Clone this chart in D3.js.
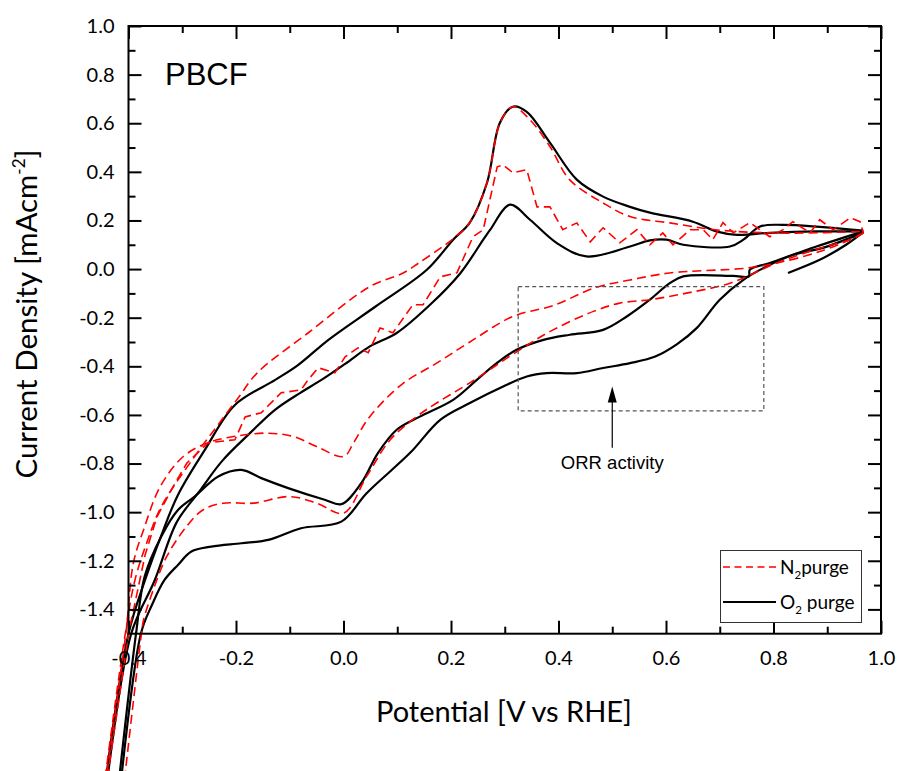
<!DOCTYPE html>
<html><head><meta charset="utf-8">
<script src="https://cdn.jsdelivr.net/npm/d3@7"></script>
<style>body{margin:0;background:#fff} svg{display:block}</style>
</head><body><svg id="chart" width="899" height="771"></svg>
<script>
// ---- tick values ----
const xMajorTicks = [-0.4, -0.2, 0.0, 0.2, 0.4, 0.6, 0.8, 1.0];
const xMinorTicks = [-0.3, -0.1, 0.1, 0.3, 0.5, 0.7, 0.9];
const yMajorTicks = [1.0, 0.8, 0.6, 0.4, 0.2, 0.0, -0.2, -0.4, -0.6, -0.8, -1.0, -1.2, -1.4];
const yMinorTicks = [0.9, 0.7, 0.5, 0.3, 0.1, -0.1, -0.3, -0.5, -0.7, -0.9, -1.1, -1.3];

// ---- O2 purge (black) branches: [potential V, current mA/cm2] ----
const o2Start = [[0.827,-0.016],[0.886,0.038],[0.935,0.100],[0.967,0.152]];
const o2Anodic1 = [[-0.445,-2.15],[-0.400,-1.50],[-0.369,-1.278],[-0.338,-1.09],[-0.308,-0.929],[-0.258,-0.744],
  [-0.202,-0.559],[-0.127,-0.456],[-0.084,-0.394],[-0.028,-0.291],[0.059,-0.155],[0.155,-0.003],[0.204,0.121],
  [0.235,0.191],[0.267,0.355],[0.291,0.602],[0.315,0.668],[0.341,0.647],[0.384,0.520],[0.434,0.368],[0.483,0.298],
  [0.533,0.256],[0.570,0.232],[0.650,0.195],[0.695,0.154],[0.732,0.141],[0.793,0.149],[0.880,0.155],[0.967,0.155]];
const o2Anodic2 = [[-0.442,-2.15],[-0.395,-1.50],[-0.351,-1.279],[-0.310,-1.040],[-0.270,-0.920],[-0.226,-0.790],
  [-0.174,-0.675],[-0.128,-0.580],[-0.081,-0.510],[-0.041,-0.456],[0.003,-0.390],[0.049,-0.318],[0.099,-0.263],
  [0.161,-0.147],[0.217,-0.018],[0.260,0.121],[0.273,0.162],[0.310,0.265],[0.347,0.203],[0.397,0.107],[0.452,0.052],
  [0.533,0.093],[0.570,0.118],[0.601,0.121],[0.632,0.100],[0.719,0.093],[0.744,0.121],[0.775,0.175],[0.818,0.182],[0.967,0.158]];
const o2Cathodic1 = [[0.967,0.155],[0.880,0.093],[0.793,0.025],[0.756,-0.003],[0.754,-0.030],[0.725,-0.028],
  [0.632,-0.030],[0.607,-0.058],[0.570,-0.126],[0.527,-0.195],[0.483,-0.250],[0.421,-0.270],[0.372,-0.291],
  [0.322,-0.332],[0.285,-0.387],[0.248,-0.456],[0.204,-0.538],[0.142,-0.607],[0.099,-0.661],[0.064,-0.757],
  [0.033,-0.881],[-0.004,-0.967],[-0.035,-0.949],[-0.103,-0.901],[-0.153,-0.860],[-0.190,-0.826],[-0.233,-0.853],
  [-0.277,-0.936],[-0.308,-0.991],[-0.339,-1.100],[-0.370,-1.265],[-0.386,-1.50],[-0.420,-2.15]];
const o2Cathodic2 = [[0.967,0.150],[0.890,0.086],[0.837,0.059],[0.781,0.004],[0.744,-0.044],[0.700,-0.126],
  [0.657,-0.243],[0.620,-0.310],[0.580,-0.360],[0.533,-0.387],[0.483,-0.407],[0.434,-0.428],[0.378,-0.428],
  [0.341,-0.442],[0.297,-0.483],[0.235,-0.551],[0.180,-0.620],[0.124,-0.756],[0.043,-0.922],[-0.004,-1.039],
  [-0.079,-1.066],[-0.140,-1.114],[-0.190,-1.128],[-0.246,-1.142],[-0.283,-1.162],[-0.308,-1.217],[-0.333,-1.279],
  [-0.356,-1.380],[-0.377,-1.50],[-0.416,-2.15]];

// ---- N2 purge (red dashed) branches ----
const n2Anodic1 = [[-0.447,-2.15],[-0.406,-1.50],[-0.388,-1.279],[-0.365,-1.120],[-0.339,-0.977],[-0.277,-0.771],
  [-0.235,-0.645],[-0.196,-0.530],[-0.160,-0.426],[-0.066,-0.263],[0.049,-0.072],[0.111,-0.016],[0.140,0.025],
  [0.204,0.125],[0.235,0.191],[0.267,0.355],[0.291,0.600],[0.315,0.668],[0.347,0.614],[0.384,0.504],[0.421,0.367],
  [0.483,0.272],[0.533,0.216],[0.607,0.190],[0.700,0.160],[0.825,0.148],[0.967,0.155]];
const n2Anodic2 = [[-0.443,-2.15],[-0.400,-1.50],[-0.369,-1.175],[-0.347,-1.019],[-0.317,-0.895],[-0.291,-0.797],
  [-0.252,-0.715],[-0.202,-0.702],[-0.183,-0.608],[-0.153,-0.591],[-0.116,-0.509],[-0.079,-0.497],[-0.066,-0.456],
  [-0.047,-0.406],[-0.016,-0.427],[0.003,-0.361],[0.027,-0.324],[0.046,-0.344],[0.068,-0.242],[0.092,-0.262],
  [0.129,-0.147],[0.148,-0.147],[0.180,-0.032],[0.211,-0.015],[0.241,0.133],[0.260,0.162],[0.286,0.421],[0.297,0.429],
  [0.315,0.396],[0.341,0.409],[0.360,0.256],[0.384,0.256],[0.408,0.162],[0.434,0.190],[0.459,0.112],[0.483,0.170],
  [0.514,0.108],[0.546,0.162],[0.570,0.100],[0.594,0.149],[0.613,0.100],[0.645,0.162],[0.669,0.162],[0.687,0.121],
  [0.706,0.191],[0.725,0.149],[0.756,0.191],[0.793,0.133],[0.818,0.162],[0.836,0.195],[0.868,0.149],[0.886,0.203],
  [0.911,0.162],[0.943,0.211],[0.961,0.195],[0.967,0.149]];
const n2Cathodic1 = [[0.967,0.150],[0.962,0.141],[0.886,0.072],[0.806,0.025],[0.750,0.004],[0.607,-0.016],
  [0.533,-0.045],[0.470,-0.075],[0.390,-0.150],[0.315,-0.195],[0.235,-0.300],[0.174,-0.386],[0.108,-0.475],
  [0.046,-0.615],[0.020,-0.710],[0.000,-0.771],[-0.050,-0.730],[-0.093,-0.689],[-0.143,-0.675],[-0.205,-0.689],
  [-0.254,-0.716],[-0.298,-0.771],[-0.341,-0.895],[-0.372,-1.073],[-0.391,-1.210],[-0.405,-1.50],[-0.445,-2.15]];
const n2Cathodic2 = [[0.967,0.149],[0.942,0.121],[0.886,0.086],[0.806,0.025],[0.719,-0.058],[0.638,-0.099],
  [0.570,-0.126],[0.514,-0.140],[0.465,-0.174],[0.390,-0.250],[0.328,-0.332],[0.235,-0.468],[0.174,-0.550],
  [0.136,-0.607],[0.087,-0.702],[0.043,-0.853],[0.000,-1.004],[-0.050,-0.963],[-0.100,-0.936],[-0.168,-0.963],
  [-0.224,-0.963],[-0.261,-0.990],[-0.292,-1.059],[-0.329,-1.183],[-0.354,-1.320],[-0.372,-1.443],[-0.376,-1.50],[-0.410,-2.15]];

// ---- annotation (data coordinates) ----
const orrBox = {x0: 0.325, x1: 0.782, y0: -0.072, y1: -0.583};
const orrArrow = {x: 0.5, yFrom: -0.735, yTo: -0.483};
const orrLabel = {x: 0.5, y: -0.822, text: "ORR activity"};

const svg = d3.select("#chart");
const L = 128.5, R = 881, T = 26, B = 633.7;
const x = d3.scaleLinear().domain([-0.4, 1.0]).range([L, R]);
const y = d3.scaleLinear().domain([-1.5, 1.0]).range([B, T]);

const smooth = d3.line().x(d => x(d[0])).y(d => y(d[1])).curve(d3.curveCatmullRom.alpha(0.5));
const straight = d3.line().x(d => x(d[0])).y(d => y(d[1]));

// black O2 curves
const gO2 = svg.append("g").attr("fill", "none").attr("stroke", "#000").attr("stroke-width", 2.2)
  .attr("stroke-linejoin", "round");
[o2Start, o2Anodic1, o2Anodic2, o2Cathodic1, o2Cathodic2].forEach(s => gO2.append("path").attr("d", smooth(s)));

// red N2 curves
const gN2 = svg.append("g").attr("fill", "none").attr("stroke", "#ff0000").attr("stroke-width", 1.6)
  .attr("stroke-dasharray", "9,5");
[n2Anodic1, n2Cathodic1, n2Cathodic2].forEach(s => gN2.append("path").attr("d", smooth(s)));
gN2.append("path").attr("d", straight(n2Anodic2));

// axes
const fmt = d => d.toFixed(1);
function styleAxis(g) {
  g.select(".domain").remove();
  g.selectAll("line").attr("stroke", "#000").attr("stroke-width", 2);
  g.selectAll("text").attr("font-family", "Lato").attr("font-size", 20).attr("fill", "#000");
}
svg.append("g").attr("transform", `translate(0,${B})`)
  .call(d3.axisBottom(x).tickValues(xMajorTicks).tickSize(-13).tickSizeOuter(0).tickPadding(17).tickFormat(fmt)).call(styleAxis);
svg.append("g").attr("transform", `translate(0,${B})`)
  .call(d3.axisBottom(x).tickValues(xMinorTicks).tickSize(-7).tickSizeOuter(0).tickFormat("")).call(styleAxis);
svg.append("g").attr("transform", `translate(0,${T})`)
  .call(d3.axisTop(x).tickValues(xMajorTicks).tickSize(-13).tickSizeOuter(0).tickFormat("")).call(styleAxis);
svg.append("g").attr("transform", `translate(0,${T})`)
  .call(d3.axisTop(x).tickValues(xMinorTicks).tickSize(-7).tickSizeOuter(0).tickFormat("")).call(styleAxis);
svg.append("g").attr("transform", `translate(${L},0)`)
  .call(d3.axisLeft(y).tickValues(yMajorTicks).tickSize(-13).tickSizeOuter(0).tickPadding(14).tickFormat(fmt)).call(styleAxis);
svg.append("g").attr("transform", `translate(${L},0)`)
  .call(d3.axisLeft(y).tickValues(yMinorTicks).tickSize(-7).tickSizeOuter(0).tickFormat("")).call(styleAxis);
svg.append("g").attr("transform", `translate(${R},0)`)
  .call(d3.axisRight(y).tickValues(yMajorTicks).tickSize(-13).tickSizeOuter(0).tickFormat("")).call(styleAxis);
svg.append("g").attr("transform", `translate(${R},0)`)
  .call(d3.axisRight(y).tickValues(yMinorTicks).tickSize(-7).tickSizeOuter(0).tickFormat("")).call(styleAxis);

svg.append("rect").attr("x", L).attr("y", T).attr("width", R - L).attr("height", B - T)
  .attr("fill", "none").attr("stroke", "#000").attr("stroke-width", 2);

// axis titles
svg.append("text").attr("x", 504).attr("y", 722).attr("text-anchor", "middle")
  .attr("font-family", "Lato").attr("font-size", 29).text("Potential [V vs RHE]");
const yt = svg.append("text").attr("transform", `translate(37,314) rotate(-90)`)
  .attr("text-anchor", "middle").attr("font-family", "Lato").attr("font-size", 29.5);
yt.append("tspan").text("Current Density [mAcm");
yt.append("tspan").attr("font-size", 17).attr("dy", -12).text("-2");
yt.append("tspan").attr("dy", 12).text("]");

// PBCF label
svg.append("text").attr("x", 165).attr("y", 85).attr("font-family", "Liberation Sans, Arial")
  .attr("font-size", 31).text("PBCF");

// ORR annotation
svg.append("rect").attr("x", x(orrBox.x0)).attr("y", y(orrBox.y0))
  .attr("width", x(orrBox.x1) - x(orrBox.x0)).attr("height", y(orrBox.y1) - y(orrBox.y0))
  .attr("fill", "none").attr("stroke", "#555").attr("stroke-width", 1.2).attr("stroke-dasharray", "4,3");
const ax = x(orrArrow.x), ay0 = y(orrArrow.yFrom), ay1 = y(orrArrow.yTo);
svg.append("line").attr("x1", ax).attr("x2", ax).attr("y1", ay0).attr("y2", ay1 + 14)
  .attr("stroke", "#000").attr("stroke-width", 1.2);
svg.append("path").attr("d", `M${ax},${ay1} L${ax - 4.5},${ay1 + 16} L${ax + 4.5},${ay1 + 16} Z`).attr("fill", "#000");
svg.append("text").attr("x", x(orrLabel.x)).attr("y", y(orrLabel.y)).attr("text-anchor", "middle")
  .attr("font-family", "Liberation Sans, Arial").attr("font-size", 18.5).text(orrLabel.text);

// legend
const lg = svg.append("g");
lg.append("rect").attr("x", 720.5).attr("y", 550.5).attr("width", 141).attr("height", 72)
  .attr("fill", "#fff").attr("stroke", "#333").attr("stroke-width", 1);
lg.append("line").attr("x1", 723).attr("x2", 776).attr("y1", 567).attr("y2", 567)
  .attr("stroke", "#ff0000").attr("stroke-width", 1.6).attr("stroke-dasharray", "7,4.5");
lg.append("line").attr("x1", 723).attr("x2", 776).attr("y1", 602).attr("y2", 602)
  .attr("stroke", "#000").attr("stroke-width", 2.2);
const t1 = lg.append("text").attr("x", 780).attr("y", 574).attr("font-family", "Lato").attr("font-size", 19);
t1.append("tspan").text("N");
t1.append("tspan").attr("font-size", 11.5).attr("dy", 5).text("2");
t1.append("tspan").attr("dy", -5).text("purge");
const t2 = lg.append("text").attr("x", 780).attr("y", 609).attr("font-family", "Lato").attr("font-size", 19);
t2.append("tspan").text("O");
t2.append("tspan").attr("font-size", 11.5).attr("dy", 5).text("2");
t2.append("tspan").attr("dy", -5).text(" purge");
</script></body></html>
